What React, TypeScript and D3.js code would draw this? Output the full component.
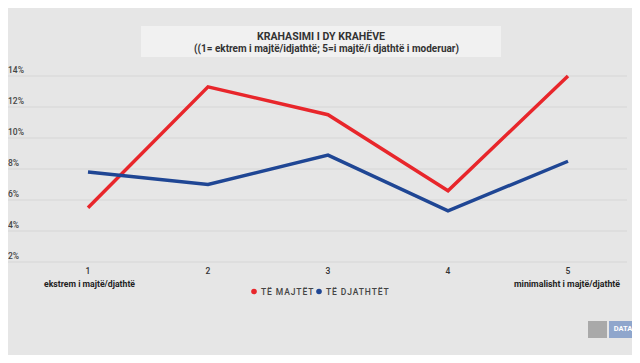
import React, { useEffect, useRef } from "react";
import * as d3 from "d3";

const categories = ["1", "2", "3", "4", "5"];
const leftValues = [5.5, 13.3, 11.5, 6.6, 14.0];
const rightValues = [7.8, 7.0, 8.9, 5.3, 8.5];
const yTicks = [2, 4, 6, 8, 10, 12, 14];
const seriesNames = ["TË MAJTËT", "TË DJATHTËT"];
const seriesColors = ["#e8262b", "#1f4694"];

const W = 640;
const H = 363;
const font = "Roboto, sans-serif";

export default function App() {
  const ref = useRef<SVGSVGElement>(null);

  useEffect(() => {
    const svg = d3.select(ref.current);
    svg.selectAll("*").remove();
    svg.attr("width", W).attr("height", H);

    svg.append("rect").attr("width", W).attr("height", H).attr("fill", "#e6e6e6");

    const x = d3.scalePoint<string>().domain(categories).range([88, 568]);
    const y = d3.scaleLinear().domain([2, 14]).range([262, 76]);

    // grid + y labels
    const grid = svg.append("g");
    yTicks.forEach((t) => {
      grid.append("line")
        .attr("x1", 8).attr("x2", 627)
        .attr("y1", y(t)).attr("y2", y(t))
        .attr("stroke", "#d6d6d6").attr("stroke-width", 1);
      grid.append("text")
        .attr("x", 8).attr("y", y(t) - 3)
        .attr("font-family", font).attr("font-size", 8.5).attr("font-weight", 500)
        .attr("fill", "#444").text(`${t}%`);
    });

    // title box
    svg.append("rect").attr("x", 141).attr("y", 26).attr("width", 360).attr("height", 31)
      .attr("fill", "#f1f1f1");
    svg.append("text").attr("x", 257).attr("y", 40)
      .attr("textLength", 128).attr("lengthAdjust", "spacingAndGlyphs")
      .attr("font-family", font).attr("font-weight", "bold").attr("font-size", 10.5)
      .attr("fill", "#333").text("KRAHASIMI I DY KRAHËVE");
    svg.append("text").attr("x", 194).attr("y", 52)
      .attr("textLength", 265).attr("lengthAdjust", "spacingAndGlyphs")
      .attr("font-family", font).attr("font-weight", "bold").attr("font-size", 10.5)
      .attr("fill", "#333").text("((1= ektrem i majtë/idjathtë; 5=i majtë/i djathtë i moderuar)");

    // lines
    const line = d3.line<number>()
      .x((_, i) => x(categories[i]) as number)
      .y((d) => y(d));
    [leftValues, rightValues].forEach((vals, i) => {
      svg.append("path").datum(vals)
        .attr("d", line)
        .attr("fill", "none")
        .attr("stroke", seriesColors[i])
        .attr("stroke-width", 3.5)
        .attr("stroke-linejoin", "miter");
    });

    // x ticks
    categories.forEach((c) => {
      svg.append("text").attr("x", x(c) as number).attr("y", 274)
        .attr("text-anchor", "middle").attr("font-family", font)
        .attr("font-size", 8.5).attr("font-weight", 500).attr("fill", "#333").text(c);
    });
    svg.append("text").attr("x", 44).attr("y", 287)
      .attr("textLength", 91).attr("lengthAdjust", "spacingAndGlyphs")
      .attr("font-family", font).attr("font-weight", "bold").attr("font-size", 9.5)
      .attr("fill", "#222").text("ekstrem i majtë/djathtë");
    svg.append("text").attr("x", 514).attr("y", 287)
      .attr("textLength", 106).attr("lengthAdjust", "spacingAndGlyphs")
      .attr("font-family", font).attr("font-weight", "bold").attr("font-size", 9.5)
      .attr("fill", "#222").text("minimalisht i majtë/djathtë");

    // legend
    const lg = svg.append("g").attr("font-family", font).attr("font-size", 8.5)
      .attr("font-weight", 500).attr("letter-spacing", 0.9).attr("fill", "#444");
    lg.append("circle").attr("cx", 254).attr("cy", 291.5).attr("r", 2.8).attr("fill", seriesColors[0]);
    lg.append("text").attr("x", 261).attr("y", 295).text(seriesNames[0]);
    lg.append("circle").attr("cx", 319).attr("cy", 291.5).attr("r", 2.8).attr("fill", seriesColors[1]);
    lg.append("text").attr("x", 326).attr("y", 295).text(seriesNames[1]);

    // logo
    svg.append("rect").attr("x", 588).attr("y", 321).attr("width", 19).attr("height", 17).attr("fill", "#a9a9a9");
    svg.append("rect").attr("x", 609).attr("y", 321).attr("width", 28).attr("height", 17).attr("fill", "#8fa6cc");
    svg.append("text").attr("x", 623).attr("y", 331).attr("text-anchor", "middle")
      .attr("font-family", font).attr("font-weight", "bold").attr("font-size", 7.5)
      .attr("fill", "#ffffff").text("DATA");
  }, []);

  return (
    <div style={{ margin: -8 }}>
      <svg ref={ref} style={{ display: "block" }} />
    </div>
  );
}
